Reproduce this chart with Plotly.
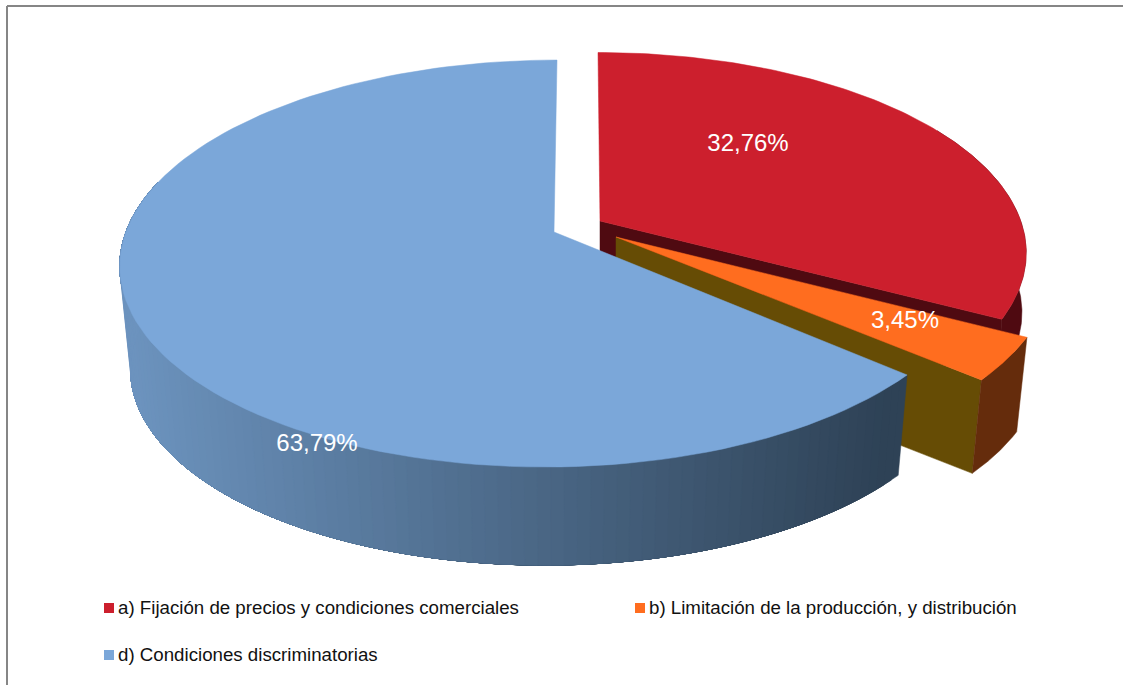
import math
import plotly.graph_objects as go

categories = ["a) Fijación de precios y condiciones comerciales",
              "b) Limitación de la producción, y distribución",
              "d) Condiciones discriminatorias"]
shares = [32.76, 3.45, 63.79]
pct_labels = ["32,76%", "3,45%", "63,79%"]
top_colors = ["#CC1F2D", "#FF6D1F", "#7BA7D9"]
wall_colors = ["#4F0A11", "#652C0C", None]
cut_colors = ["#4F0A11", "#664C05", "#5E84AE"]
centers = [(600, 221), (616, 237), (551, 232)]
apexes = [(600, 221), (616, 237), (554, 232)]
x_scale = [0.99, 1.015, 1.0]
y_scale = [0.98, 1.0, 1.0]
skews = [-2, 0, 6]
drops = [60, 97, 104]
shrink = [0.99, 0.975, 0.975]
label_xy = [(748, 145), (905, 322), (317, 445)]
legend_xy = [(109, 608), (640, 608), (109, 655)]

RX, RY, P = 425, 198.6, 0.155


def proj(i, deg, low=False):
    t = math.radians(deg)
    X, Y = math.sin(t), math.cos(t)
    s = 1 / (1 + P * Y)
    dx, dy = RX * x_scale[i] * X * s + skews[i] * Y, -RY * y_scale[i] * Y * s
    cx, cy = centers[i]
    if low:
        return cx + shrink[i] * dx, cy + shrink[i] * dy + drops[i]
    return cx + dx, cy + dy


def poly(fig, pts, color):
    xs = [p[0] for p in pts] + [pts[0][0]]
    ys = [p[1] for p in pts] + [pts[0][1]]
    fig.add_trace(go.Scatter(x=xs, y=ys, mode="lines", fill="toself", fillcolor=color,
                             line=dict(color=color, width=0.5), hoverinfo="skip", showlegend=False))


def arc(i, a0, a1, low=False, n=120):
    return [proj(i, a0 + (a1 - a0) * k / n, low) for k in range(n + 1)]


def mix(x):
    f = max(0, min(1, (x - 130) / 760))
    c0, c1 = (108, 147, 190), (46, 66, 86)
    return "rgb(%d,%d,%d)" % tuple(round(u + (v - u) * f) for u, v in zip(c0, c1))


fig = go.Figure()
bounds = []
acc = 0
for v in shares:
    bounds.append((acc * 3.6, (acc + v) * 3.6))
    acc += v

for i, (a0, a1) in enumerate(bounds):
    ap = apexes[i]
    low_ap = (ap[0], ap[1] + drops[i])
    if i < 2:
        poly(fig, [ap, proj(i, a1), proj(i, a1, True), low_ap], cut_colors[i])
    if wall_colors[i]:
        # only the part of the rim facing the viewer is visible
        w0 = max(a0, 60)
        poly(fig, arc(i, w0, a1) + arc(i, a1, w0, True), wall_colors[i])
    else:
        # gradient wall: each band runs to the far end and is overpainted by the next,
        # so no anti-aliased seams show between bands
        n = 150
        stop = 285
        bands = []
        for j in range(n):
            b0 = a0 + (a1 - a0) * j / n
            if b0 > stop:
                break
            bands.append(b0)
        for b0 in bands:
            pts = arc(i, b0, stop, n=40) + arc(i, stop, b0, True, n=40)
            poly(fig, pts, mix(proj(i, b0)[0]))
    poly(fig, [ap] + arc(i, a0, a1), top_colors[i])

fig.add_trace(go.Scatter(
    x=[p[0] for p in label_xy], y=[p[1] for p in label_xy], mode="text", text=pct_labels,
    textposition="middle center", hoverinfo="skip", showlegend=False,
    textfont=dict(family="Liberation Sans", size=24, color="white")))

for name, col, (x, y) in zip(categories, top_colors, legend_xy):
    fig.add_trace(go.Scatter(
        x=[x], y=[y], mode="markers", marker=dict(symbol="square", size=10, color=col),
        hoverinfo="skip", showlegend=False))
    fig.add_trace(go.Scatter(
        x=[x + 9], y=[y + 1], mode="text", text=[name], textposition="middle right",
        hoverinfo="skip", showlegend=False,
        textfont=dict(family="Liberation Sans", size=18.7, color="#111111")))

fig.update_layout(
    width=1123, height=685, margin=dict(l=0, r=0, t=0, b=0),
    paper_bgcolor="white", plot_bgcolor="white", showlegend=False,
    xaxis=dict(range=[0, 1123], visible=False, fixedrange=True),
    yaxis=dict(range=[685, 0], visible=False, fixedrange=True),
    shapes=[dict(type="line", x0=7, x1=1123, y0=6, y1=6, line=dict(color="#868686", width=2)),
            dict(type="line", x0=7, x1=7, y0=6, y1=685, line=dict(color="#868686", width=2))],
)
fig.write_html("out.html", config=dict(displayModeBar=False),
               post_script="document.body.style.margin='0';document.body.style.overflow='hidden';")
